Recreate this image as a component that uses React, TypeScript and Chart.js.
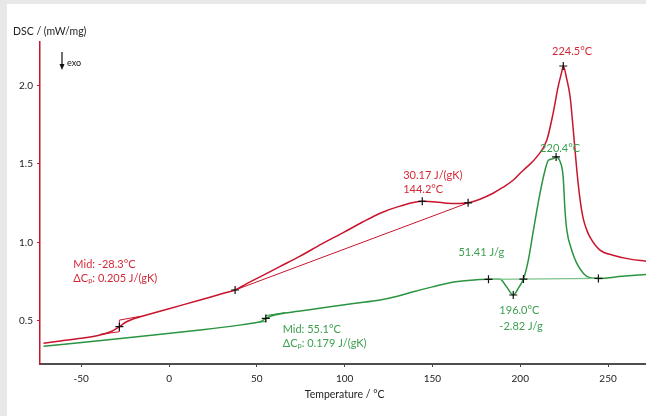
import React, { useEffect, useRef } from "react";
import { Chart, registerables } from "chart.js";

Chart.register(...registerables);

// ---- data -----------------------------------------------------------------
// Sample A (red): temperature in °C and DSC signal in mW/mg
const redTemp = [
  -71.5, -62, -50, -39.3, -33.6, -28.3, -24.5, -16.5, 0, 17.7, 30, 37.6, 44, 51.8,
  63, 74.6, 87, 99.7, 110, 120.2, 131.5, 144.2, 152, 158.3, 165, 170.3, 177, 184.5,
  190, 195.9, 199.9, 203.7, 209.4, 215.1, 218.7, 221.5, 223.6, 224.5, 226.3, 228.4,
  230.2, 232.2, 234.1, 235.8, 237.9, 239.7, 245.4, 252.8, 262.5, 271.6,
];
const redDsc = [
  0.357, 0.371, 0.388, 0.409, 0.428, 0.462, 0.492, 0.525, 0.577, 0.632, 0.672, 0.696, 0.735, 0.78,
  0.845, 0.912, 0.99, 1.065, 1.128, 1.186, 1.231, 1.262, 1.258, 1.25, 1.248, 1.252, 1.275, 1.313,
  1.35, 1.396, 1.441, 1.48, 1.545, 1.651, 1.823, 1.99, 2.086, 2.125, 2.05, 1.927,
  1.715, 1.46, 1.269, 1.154, 1.078, 1.033, 0.95, 0.918, 0.893, 0.88,
];

// Sample B (green)
const greenTemp = [
  -71.5, -40, -10, 17.7, 40, 48, 52, 55.1, 58, 66, 80, 91.7, 105, 120.2, 130, 139.1, 150,
  160, 170, 181.9, 188.5, 192, 196, 199, 201.8, 204.6, 207.5, 211, 214.1, 216, 218.9,
  220.4, 222.5, 224.4, 225.5, 226.5, 229.3, 232.2, 236, 239.7, 244.5, 258, 272,
];
const greenDsc = [
  0.337, 0.373, 0.407, 0.441, 0.472, 0.486, 0.494, 0.515, 0.53, 0.549, 0.57, 0.589, 0.61, 0.632, 0.656, 0.685, 0.716,
  0.742, 0.756, 0.764, 0.764, 0.72, 0.664, 0.71, 0.766, 0.887, 1.078, 1.3, 1.46, 1.524, 1.534,
  1.545, 1.52, 1.42, 1.2, 1.078, 0.95, 0.866, 0.802, 0.774, 0.77, 0.783, 0.796,
];

// Evaluation constructions (tangents / baselines)
const redStepTemp = [-39.3, -28.3, -28.3, -16.5];
const redStepDsc = [0.413, 0.43, 0.504, 0.528];
const redBaseTemp = [37.6, 170.3];
const redBaseDsc = [0.696, 1.252];
const greenStepTemp = [49, 55.1, 55.1, 66];
const greenStepDsc = [0.488, 0.495, 0.533, 0.552];
const greenBaseTemp = [181.9, 244.5];
const greenBaseDsc = [0.764, 0.77];

// Evaluation markers
const redMarkTemp = [-28.3, 37.6, 144.2, 170.3, 224.5];
const redMarkDsc = [0.462, 0.696, 1.262, 1.252, 2.125];
const greenMarkTemp = [55.1, 181.9, 196.0, 201.8, 220.4, 244.5];
const greenMarkDsc = [0.515, 0.764, 0.664, 0.766, 1.545, 0.77];

// Axes
const xTicks = [-50, 0, 50, 100, 150, 200, 250];
const yTicks = [0.5, 1.0, 1.5, 2.0];
const xMin = -73.5;
const xMax = 271.6;
const yMin = 0.224;
const yMax = 2.278;

// ---- styling ----------------------------------------------------------------
const RED = "#c8142d";
const RED_TEXT = "#d42a38";
const GREEN = "#2a9440";
const GREEN_LIGHT = "#7cc48a";
const GREEN_TEXT = "#3c9f50";
const FONT = "Lato, 'Open Sans', sans-serif";

type Run = { t: string; sub?: boolean };
type Label = { runs: Run[]; at: [number, number]; align: "left" | "center"; color: string };

const dcp = (value: string): Run[] => [{ t: "ΔC" }, { t: "p", sub: true }, { t: ": " + value }];

const labels: Label[] = [
  { runs: [{ t: "224.5°C" }], at: [229.5, 2.218], align: "center", color: RED_TEXT },
  { runs: [{ t: "220.4°C" }], at: [222.7, 1.6], align: "center", color: GREEN_TEXT },
  { runs: [{ t: "30.17 J/(gK)" }], at: [133.3, 1.427], align: "left", color: RED_TEXT },
  { runs: [{ t: "144.2°C" }], at: [133.3, 1.337], align: "left", color: RED_TEXT },
  { runs: [{ t: "51.41 J/g" }], at: [164.8, 0.933], align: "left", color: GREEN_TEXT },
  { runs: [{ t: "196.0°C" }], at: [188.1, 0.564], align: "left", color: GREEN_TEXT },
  { runs: [{ t: "-2.82 J/g" }], at: [188.1, 0.466], align: "left", color: GREEN_TEXT },
  { runs: [{ t: "Mid: -28.3°C" }], at: [-54.5, 0.861], align: "left", color: RED_TEXT },
  { runs: dcp("0.205 J/(gK)"), at: [-54.5, 0.77], align: "left", color: RED_TEXT },
  { runs: [{ t: "Mid: 55.1°C" }], at: [64.7, 0.445], align: "left", color: GREEN_TEXT },
  { runs: dcp("0.179 J/(gK)"), at: [64.7, 0.356], align: "left", color: GREEN_TEXT },
];

const pts = (xs: number[], ys: number[]) => xs.map((x, i) => ({ x, y: ys[i] }));

function runsWidth(ctx: CanvasRenderingContext2D, runs: Run[], size: number) {
  let w = 0;
  for (const r of runs) {
    ctx.font = `${r.sub ? size * 0.68 : size}px ${FONT}`;
    w += ctx.measureText(r.t).width;
  }
  return w;
}

function drawRuns(ctx: CanvasRenderingContext2D, runs: Run[], x: number, y: number, size: number, color: string) {
  let cx = x;
  ctx.fillStyle = color;
  ctx.textBaseline = "middle";
  ctx.textAlign = "left";
  for (const r of runs) {
    ctx.font = `${r.sub ? size * 0.68 : size}px ${FONT}`;
    ctx.fillText(r.t, cx, y + (r.sub ? size * 0.22 : 0));
    cx += ctx.measureText(r.t).width;
  }
}

const textPlugin = {
  id: "dscText",
  afterDraw(chart: any) {
    const ctx: CanvasRenderingContext2D = chart.ctx;
    const xs = chart.scales.x;
    const ys = chart.scales.y;
    ctx.save();

    // axis titles
    ctx.fillStyle = "#222";
    ctx.textBaseline = "middle";
    ctx.font = `10.5px ${FONT}`;
    ctx.textAlign = "left";
    ctx.fillText("DSC / (mW/mg)", 13, 32);
    ctx.textAlign = "center";
    ctx.fillText("Temperature / °C", xs.getPixelForValue(100), 395);

    // exo arrow
    ctx.strokeStyle = "#111";
    ctx.lineWidth = 1.2;
    ctx.beginPath();
    ctx.moveTo(62, 52);
    ctx.lineTo(62, 65);
    ctx.stroke();
    ctx.fillStyle = "#111";
    ctx.beginPath();
    ctx.moveTo(59.5, 64);
    ctx.lineTo(64.5, 64);
    ctx.lineTo(62, 70);
    ctx.closePath();
    ctx.fill();
    ctx.font = `9px ${FONT}`;
    ctx.textAlign = "left";
    ctx.fillText("exo", 67, 63);

    // evaluation labels
    const size = 11;
    for (const l of labels) {
      const px = xs.getPixelForValue(l.at[0]);
      const py = ys.getPixelForValue(l.at[1]);
      const w = runsWidth(ctx, l.runs, size);
      drawRuns(ctx, l.runs, l.align === "center" ? px - w / 2 : px, py, size, l.color);
    }
    ctx.restore();
  },
};

export default function App() {
  const canvasRef = useRef<HTMLCanvasElement | null>(null);

  useEffect(() => {
    if (!canvasRef.current) return;
    const chart = new Chart(canvasRef.current, {
      type: "line",
      data: {
        datasets: [
          {
            data: pts(redMarkTemp, redMarkDsc),
            showLine: false,
            pointStyle: "cross",
            pointRadius: 4,
            pointBorderWidth: 1.2,
            borderColor: "#111",
            backgroundColor: "#111",
          },
          {
            data: pts(greenMarkTemp, greenMarkDsc),
            showLine: false,
            pointStyle: "cross",
            pointRadius: 4,
            pointBorderWidth: 1.2,
            borderColor: "#111",
            backgroundColor: "#111",
          },
          { data: pts(redStepTemp, redStepDsc), borderColor: RED, borderWidth: 1, pointRadius: 0, tension: 0 },
          { data: pts(redBaseTemp, redBaseDsc), borderColor: RED, borderWidth: 1, pointRadius: 0, tension: 0 },
          { data: pts(greenStepTemp, greenStepDsc), borderColor: GREEN, borderWidth: 1, pointRadius: 0, tension: 0 },
          { data: pts(greenBaseTemp, greenBaseDsc), borderColor: GREEN_LIGHT, borderWidth: 1.2, pointRadius: 0, tension: 0 },
          {
            data: pts(redTemp, redDsc),
            borderColor: RED,
            borderWidth: 1.5,
            pointRadius: 0,
            cubicInterpolationMode: "monotone",
          },
          {
            data: pts(greenTemp, greenDsc),
            borderColor: GREEN,
            borderWidth: 1.5,
            pointRadius: 0,
            cubicInterpolationMode: "monotone",
          },
        ],
      },
      options: {
        responsive: false,
        animation: false,
        devicePixelRatio: 1,
        layout: { autoPadding: false, padding: { top: 42, left: 0, right: 0, bottom: 0 } },
        plugins: { legend: { display: false }, tooltip: { enabled: false } },
        scales: {
          x: {
            type: "linear",
            min: xMin,
            max: xMax,
            afterBuildTicks: (s: any) => {
              s.ticks = xTicks.map((value) => ({ value }));
            },
            afterFit: (s: any) => {
              s.height = 52;
              s.paddingLeft = 0;
              s.paddingRight = 0;
            },
            grid: { drawOnChartArea: false, drawTicks: true, tickLength: 3, tickColor: "#444", tickWidth: 1 },
            border: { color: "#4d4d4d", width: 2 },
            ticks: {
              color: "#222",
              font: { family: FONT, size: 10 },
              padding: 6,
              maxRotation: 0,
              callback: (v: any) => String(v),
            },
          },
          y: {
            type: "linear",
            min: yMin,
            max: yMax,
            afterBuildTicks: (s: any) => {
              s.ticks = yTicks.map((value) => ({ value }));
            },
            afterFit: (s: any) => {
              s.width = 40;
              s.paddingTop = 0;
              s.paddingBottom = 0;
            },
            grid: { drawOnChartArea: false, drawTicks: true, tickLength: 3, tickColor: RED, tickWidth: 1 },
            border: { color: RED, width: 1.5 },
            ticks: {
              color: "#222",
              font: { family: FONT, size: 10 },
              padding: 4,
              callback: (v: any) => Number(v).toFixed(1),
            },
          },
        },
      },
      plugins: [textPlugin],
    });
    return () => chart.destroy();
  }, []);

  return (
    <div style={{ position: "fixed", left: 0, top: 0, width: 646, height: 416, background: "#e8e8e8" }}>
      <div style={{ position: "absolute", left: 7, top: 4, right: 0, bottom: 0, background: "#fff" }} />
      <canvas
        ref={canvasRef}
        width={646}
        height={416}
        style={{ position: "absolute", left: 0, top: 0, width: 646, height: 416 }}
      />
    </div>
  );
}
